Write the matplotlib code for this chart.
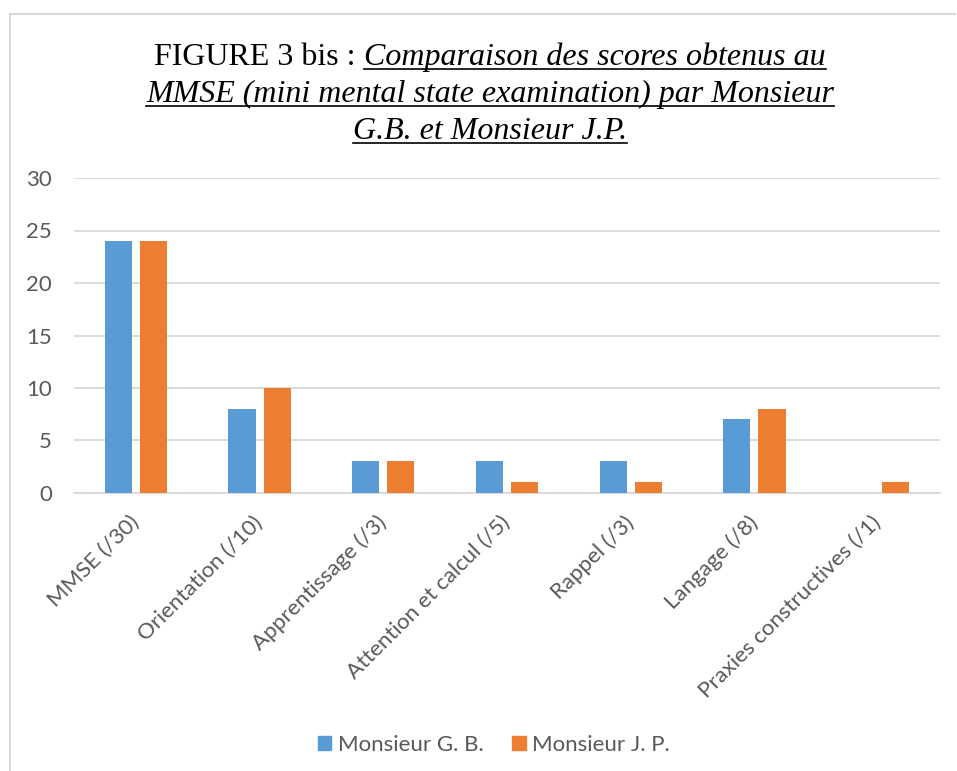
import matplotlib
matplotlib.use("Agg")
import matplotlib.pyplot as plt
import numpy as np
from matplotlib.lines import Line2D
from matplotlib.patches import Patch

categories = ["MMSE (/30)", "Orientation (/10)", "Apprentissage (/3)",
              "Attention et calcul (/5)", "Rappel (/3)", "Langage (/8)",
              "Praxies constructives (/1)"]
gb_scores = [24, 8, 3, 3, 3, 7, 0]
jp_scores = [24, 10, 3, 1, 1, 8, 1]
series_names = ["Monsieur G. B.", "Monsieur J. P."]
yticks = [0, 5, 10, 15, 20, 25, 30]

BLUE = "#5B9BD5"
ORANGE = "#ED7D31"
GREY = "#595959"
GRID = "#D9D9D9"
FONT = "Lato"
FS = 16

W, H = 957, 771
fig = plt.figure(figsize=(W / 100, H / 100), dpi=100)
fig.patch.set_facecolor("white")

ax = fig.add_axes([74 / W, 1 - 493 / H, (940 - 74) / W, (493 - 178) / H])
x = np.arange(len(categories))
bw = 0.22
off = 0.142
ax.bar(x - off, gb_scores, bw, color=BLUE, zorder=3, label=series_names[0])
ax.bar(x + off, jp_scores, bw, color=ORANGE, zorder=3, label=series_names[1])
ax.set_xlim(-0.5, len(categories) - 0.5)
ax.set_ylim(0, 30)
ax.set_yticks(yticks)
ax.yaxis.grid(True, color=GRID, linewidth=1.3, zorder=0)
ax.set_axisbelow(True)
for s in ["top", "right", "left"]:
    ax.spines[s].set_visible(False)
ax.spines["bottom"].set_color(GRID)
ax.spines["bottom"].set_linewidth(1.3)
ax.tick_params(axis="both", length=0, colors=GREY, labelsize=FS)
ax.tick_params(axis="y", pad=16)
ax.set_xticks(x)
ax.set_xticklabels(categories, rotation=45, ha="right", va="center",
                   rotation_mode="anchor", fontfamily=FONT, fontsize=FS, color=GREY)
ax.tick_params(axis="x", pad=19)
for lab in ax.get_yticklabels():
    lab.set_fontfamily(FONT)

# legend
handles = [Patch(color=BLUE), Patch(color=ORANGE)]
fig.legend(handles, series_names, loc="center", bbox_to_anchor=(494 / W, 1 - 745 / H),
           ncol=2, frameon=False, prop={"family": FONT, "size": FS},
           labelcolor=GREY, handlelength=0.6, handleheight=0.6, handletextpad=0.3,
           columnspacing=1.3)

# chart border (top and left)
fig.add_artist(Line2D([10 / W, 10 / W], [0, 1 - 14 / H], transform=fig.transFigure,
                      color="#D9D9D9", linewidth=1.5))
fig.add_artist(Line2D([10 / W, 955 / W], [1 - 14 / H, 1 - 14 / H], transform=fig.transFigure,
                      color="#D9D9D9", linewidth=1.5))

# title with mixed styles and underline
title_lines = [("FIGURE 3 bis : ", "Comparaison des scores obtenus au"),
               ("", "MMSE (mini mental state examination) par Monsieur"),
               ("", "G.B. et Monsieur J.P.")]
line_y = [65, 102, 139]
cx = 490
tsize = 23
renderer = fig.canvas.get_renderer()
for (plain, ital), yy in zip(title_lines, line_y):
    yf = 1 - yy / H
    t1 = fig.text(0, yf, plain, family="Liberation Serif", size=tsize, va="baseline", ha="left")
    t2 = fig.text(0, yf, ital, family="Liberation Serif", size=tsize, style="italic",
                  va="baseline", ha="left")
    w1 = t1.get_window_extent(renderer).width if plain else 0
    w2 = t2.get_window_extent(renderer).width
    start = cx - (w1 + w2) / 2
    t1.set_x(start / W)
    t2.set_x((start + w1) / W)
    uy = 1 - (yy + 4) / H
    fig.add_artist(Line2D([(start + w1) / W, (start + w1 + w2) / W], [uy, uy],
                          transform=fig.transFigure, color="black", linewidth=1.2))

fig.savefig("out.png", dpi=100, facecolor="white")
